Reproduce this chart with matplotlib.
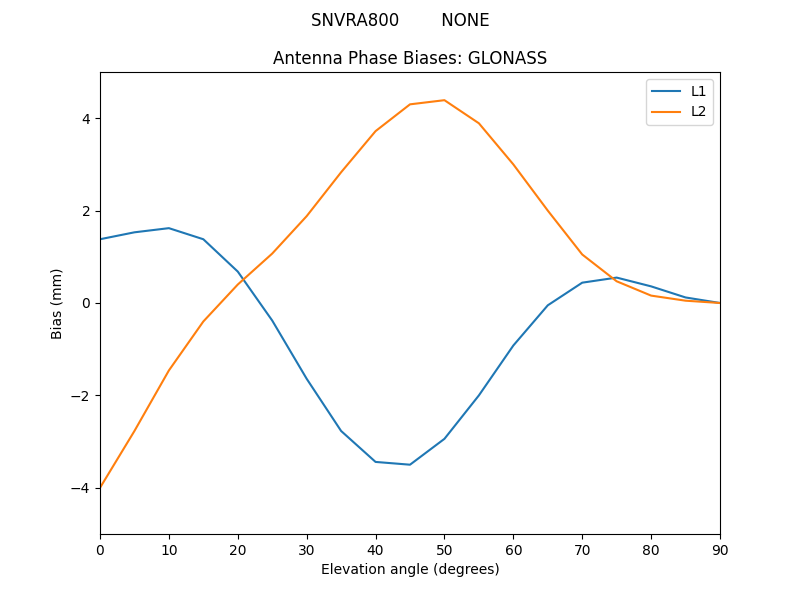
import numpy as np
import matplotlib
matplotlib.use("Agg")
from matplotlib import pyplot as plt

elev = [0, 5, 10, 15, 20, 25, 30, 35, 40, 45, 50, 55, 60, 65, 70, 75, 80, 85, 90]
l1 = [1.38, 1.53, 1.62, 1.38, 0.68, -0.38, -1.64, -2.77, -3.44, -3.50,
      -2.94, -2.00, -0.92, -0.05, 0.44, 0.55, 0.36, 0.12, 0.0]
l2 = [-4.0, -2.77, -1.46, -0.40, 0.40, 1.07, 1.88, 2.83, 3.72, 4.30,
      4.39, 3.89, 3.00, 2.00, 1.05, 0.47, 0.16, 0.05, 0.0]

fig = plt.figure(figsize=(8, 6), dpi=100)
fig.suptitle("SNVRA800        NONE")
ax = fig.add_subplot(111)
ax.plot(elev, l1, label="L1")
ax.plot(elev, l2, label="L2")
ax.set_xlim(0, 90)
ax.set_ylim(-5, 5)
ax.set_title("Antenna Phase Biases: GLONASS")
ax.set_xlabel("Elevation angle (degrees)")
ax.set_ylabel("Bias (mm)")
ax.legend()
fig.savefig("out.png")
